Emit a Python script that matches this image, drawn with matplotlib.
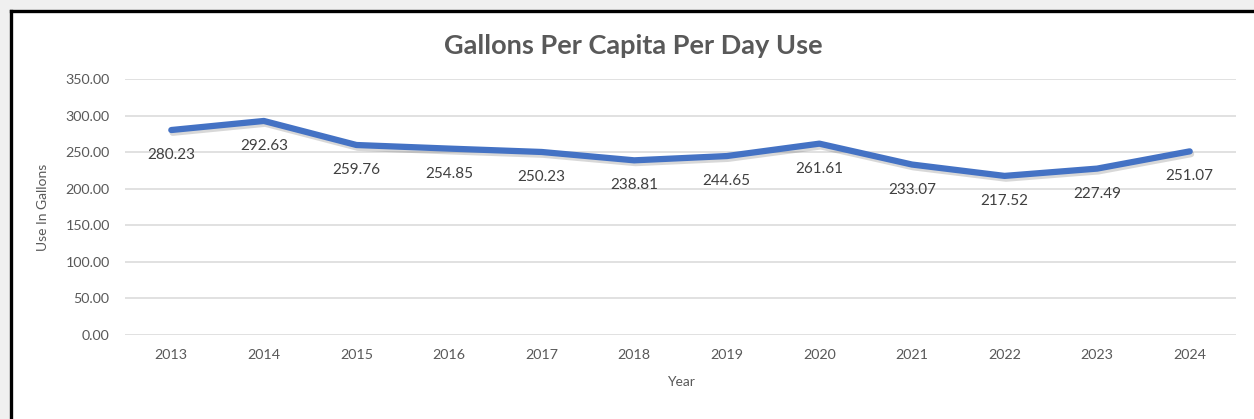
import matplotlib.pyplot as plt
import matplotlib.patheffects as pe
from matplotlib.lines import Line2D
from matplotlib.patches import Rectangle

years = ['2013', '2014', '2015', '2016', '2017', '2018',
         '2019', '2020', '2021', '2022', '2023', '2024']
gpcd = [280.23, 292.63, 259.76, 254.85, 250.23, 238.81,
        244.65, 261.61, 233.07, 217.52, 227.49, 251.07]
yticks = [0, 50, 100, 150, 200, 250, 300, 350]

plt.rcParams['font.family'] = ['Lato', 'DejaVu Sans']

fig = plt.figure(figsize=(12.54, 4.19), dpi=100)
fig.patch.set_facecolor('#f0f0f0')

# white chart area with black frame on left and top
W, H = 1254, 419
fig.patches.append(Rectangle((11 / W, 0), 1, 408 / H, transform=fig.transFigure,
                             facecolor='white', edgecolor='none', zorder=-10))
fig.lines.append(Line2D([11 / W, 11 / W], [0, 408 / H], transform=fig.transFigure,
                        color='black', lw=2.4, zorder=-5))
fig.lines.append(Line2D([11 / W, 1], [408 / H, 408 / H], transform=fig.transFigure,
                        color='black', lw=2.4, zorder=-5))

ax = fig.add_axes([125 / W, (H - 335) / H, (1236 - 125) / W, (335 - 79) / H])
ax.set_facecolor('none')

x = range(len(years))
ax.plot(x, gpcd, color='#4472C4', lw=4.5, solid_capstyle='round', zorder=3,
        path_effects=[pe.SimpleLineShadow(offset=(1, -2), alpha=0.2, shadow_color='#404040'),
                      pe.Normal()])

for i, v in enumerate(gpcd):
    ax.annotate(f'{v:.2f}', (i, v), xytext=(0, -18), textcoords='offset points',
                ha='center', va='center', fontsize=11, color='#404040')

ax.set_xlim(-0.5, len(years) - 0.5)
ax.set_ylim(0, 350)
ax.set_yticks(yticks)
ax.set_yticklabels([f'{t:.2f}' for t in yticks])
ax.set_xticks(list(x))
ax.set_xticklabels(years)
ax.grid(axis='y', color='#d9d9d9', lw=1.1)
ax.set_axisbelow(True)
for s in ax.spines.values():
    s.set_visible(False)
ax.tick_params(length=0, labelsize=10.3, labelcolor='#595959')
ax.tick_params(axis='y', pad=11)
ax.tick_params(axis='x', pad=10)

ax.set_xlabel('Year', fontsize=10, color='#595959', labelpad=11)
ax.set_ylabel('Use In Gallons', fontsize=10, color='#595959', labelpad=12)

fig.text(633 / W, (H - 46) / H, 'Gallons Per Capita Per Day Use', ha='center', va='center',
         fontsize=19.5, fontweight='bold', color='#595959')

fig.savefig('out.png', dpi=100, facecolor=fig.get_facecolor())
